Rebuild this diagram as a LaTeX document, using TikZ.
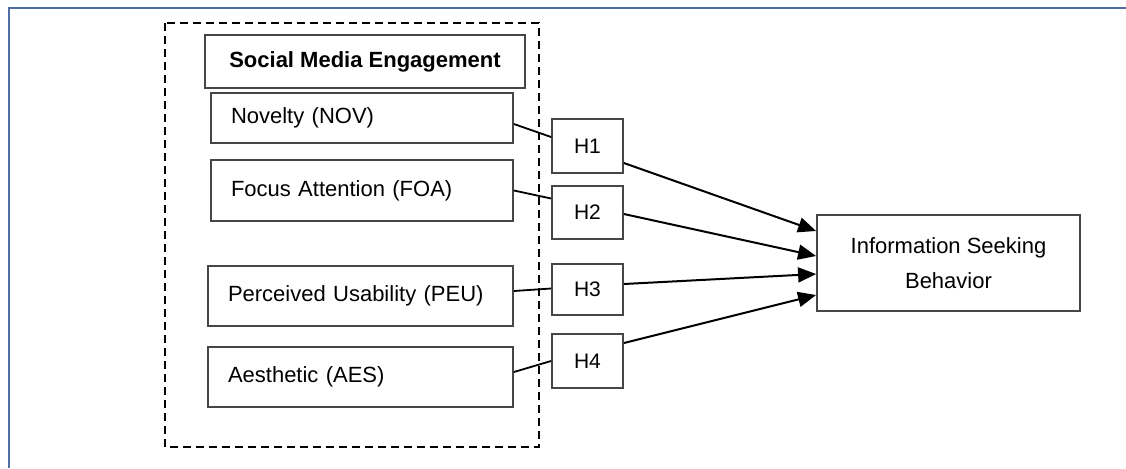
\documentclass[tikz,border=0pt]{standalone}
\usepackage{fontspec}
\setmainfont{Liberation Sans}
\usepackage{tikz}
\usetikzlibrary{arrows.meta}

\definecolor{framblue}{RGB}{79,110,165}
\definecolor{boxgray}{RGB}{70,70,70}

\tikzset{
  factor/.style={draw=boxgray, line width=0.9pt, align=left, inner xsep=10pt,
    font=\fontsize{11}{13}\selectfont},
  hypo/.style={draw=boxgray, line width=0.9pt, minimum width=35.5pt, minimum height=27pt,
    inner sep=0pt, font=\fontsize{10.5}{12}\selectfont},
  link/.style={line width=0.9pt},
  effect/.style={line width=1pt, -{Triangle[length=9pt,width=7.5pt]}}
}

\begin{document}
\begin{tikzpicture}[x=0.5pt,y=-0.5pt]
		\useasboundingbox (0,0) rectangle (1126,468);
		
		% page frame
		\draw [framblue, line width=1.3pt] (9,468) -- (9,8) -- (1126,8);
		
		% construct group
		\draw [line width=1.3pt, dash pattern=on 4pt off 2.5pt] (165,23) rectangle (539,447);
		
		\node [factor, align=center, inner sep=0pt, minimum width=160pt, minimum height=26.5pt,
		  font=\fontsize{11}{13}\selectfont\bfseries] (sme) at (365,61.5) {Social Media Engagement};
		
		\node [factor, text width=131pt, minimum height=25pt] (nov) at (362,118) {Novelty (NOV)};
		\node [factor, text width=131pt, minimum height=30.5pt] (foa) at (362,190.5) {Focus Attention (FOA)};
		\node [factor, text width=132.5pt, minimum height=30pt] (peu) at (360.5,296) {Perceived Usability (PEU)};
		\node [factor, text width=132.5pt, minimum height=30pt] (aes) at (360.5,377) {Aesthetic (AES)};
		
		% hypotheses
		\node [hypo] (h1) at (587.5,146) {H1};
		\node [hypo, minimum height=26.5pt] (h2) at (587.5,212.5) {H2};
		\node [hypo, minimum height=25.5pt] (h3) at (587.5,289.5) {H3};
		\node [hypo] (h4) at (587.5,361) {H4};
		
		\node [draw=boxgray, line width=0.9pt, minimum width=131.5pt, minimum height=48pt, align=center,
		  font=\fontsize{11}{17.5}\selectfont] (isb) at (948.5,263) {Information Seeking\\Behavior};
		
		\draw [link] ([yshift=-3pt]nov.east) -- ([yshift=4.5pt]h1.west);
		\draw [link] (foa.east) -- ([yshift=7pt]h2.west);
		\draw [link] ([yshift=2.5pt]peu.east) -- ([yshift=0.5pt]h3.west);
		\draw [link] ([yshift=2.5pt]aes.east) -- (h4.west);
		
		\draw [effect] ([yshift=-8.5pt]h1.east) -- ([yshift=16pt]isb.west);
		\draw [effect] ([yshift=-0.75pt]h2.east) -- ([yshift=3.5pt]isb.west);
		\draw [effect] ([yshift=2.75pt]h3.east) -- ([yshift=-5.5pt]isb.west);
		\draw [effect] ([yshift=9pt]h4.east) -- ([yshift=-16pt]isb.west);
	\end{tikzpicture}
\end{document}
